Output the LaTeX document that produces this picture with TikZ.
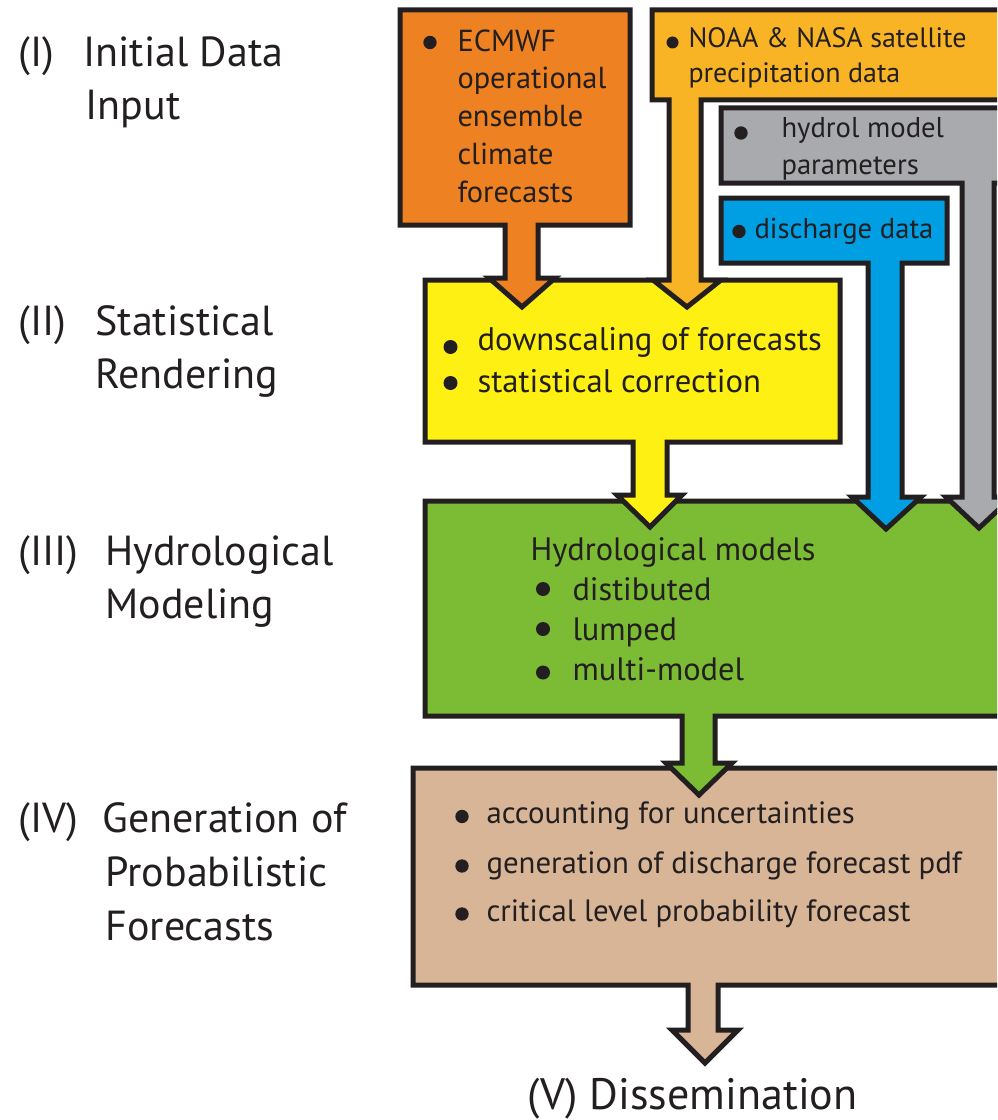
\documentclass[tikz,border=0pt]{standalone}
\usepackage{fontspec}
\setmainfont{PT Sans}
\definecolor{ink}{RGB}{35,31,32}
\definecolor{ecmwfOrange}{RGB}{238,130,34}
\definecolor{satAmber}{RGB}{248,180,36}
\definecolor{paramGray}{RGB}{168,170,173}
\definecolor{dischBlue}{RGB}{0,158,226}
\definecolor{statYellow}{RGB}{255,240,20}
\definecolor{hydroGreen}{RGB}{124,188,52}
\definecolor{probTan}{RGB}{216,181,150}

\tikzset{every picture/.style={line width=0.75pt}}

\begin{document}
\begin{tikzpicture}[x=0.75pt,y=0.75pt,yscale=-1,xscale=1,
  block/.style={draw=ink, line width=3.75pt, line join=miter},
  stage/.style={anchor=base west, inner sep=0pt, text=ink, font=\fontsize{31.5}{38}\selectfont},
  item/.style={anchor=base west, inner sep=0pt, text=ink, font=\fontsize{#1}{#1}\selectfont},
  item/.default=21.5,
  dot/.style={circle, fill=ink, inner sep=0pt, minimum size=#1},
  dot/.default=10pt]
\useasboundingbox (0,0) rectangle (997,1120);
\clip (0,0) rectangle (997,1120);

%Shape: Probabilistic box + arrow
\draw [block, fill=probTan] (413,768) -- (1010,768) -- (1010,985) -- (718,985) -- (718,1030) -- (738,1030) -- (705,1063) -- (672,1030) -- (688,1030) -- (688,985) -- (413,985) -- cycle ;
%Shape: Hydrological box + arrow
\draw [block, fill=hydroGreen] (425,501) -- (1010,501) -- (1010,716) -- (715,716) -- (715,763) -- (732,763) -- (699,795) -- (666,763) -- (682,763) -- (682,716) -- (425,716) -- cycle ;
%Shape: Statistical box + arrow
\draw [block, fill=statYellow] (425,280) -- (840,280) -- (840,442) -- (667,442) -- (667,495) -- (682,495) -- (650,527) -- (617,495) -- (633,495) -- (633,442) -- (425,442) -- cycle ;
%Shape: parameters box + arrow
\draw [block, fill=paramGray] (721,108) -- (1010,108) -- (1010,183) -- (994,183) -- (994,497) -- (1012,497) -- (979,528) -- (946,497) -- (962,497) -- (962,183) -- (721,183) -- cycle ;
%Shape: discharge box + arrow
\draw [block, fill=dischBlue] (721,198) -- (947,198) -- (947,263) -- (902,263) -- (902,497) -- (921,497) -- (886,529) -- (852,497) -- (868,497) -- (868,263) -- (721,263) -- cycle ;
%Shape: satellite box + arrow
\draw [block, fill=satAmber] (652,10) -- (1010,10) -- (1010,100) -- (701,100) -- (701,280) -- (721,280) -- (687,307) -- (653,280) -- (669,280) -- (669,100) -- (652,100) -- cycle ;
%Shape: ECMWF box + arrow
\draw [block, fill=ecmwfOrange] (400,10) -- (630,10) -- (630,225) -- (538,225) -- (538,278) -- (555,278) -- (522,307) -- (489,278) -- (505,278) -- (505,225) -- (400,225) -- cycle ;

% stage labels
\node [stage] (n1) at (18,67) {(I)};
\node [stage] (s1a) at (83,67) {Initial Data};
\node [stage] (s1b) at (85,120) {Input};
\node [stage] (n2) at (18,335) {(II)};
\node [stage] (s2a) at (95,335) {Statistical};
\node [stage] (s2b) at (95,388) {Rendering};
\node [stage] (n3) at (18,565) {(III)};
\node [stage] (s3a) at (105,565) {Hydrological};
\node [stage] (s3b) at (105,618) {Modeling};
\node [stage] (n4) at (18,832) {(IV)};
\node [stage] (s4a) at (102,832) {Generation of};
\node [stage] (s4b) at (105,886) {Probabilistic};
\node [stage] (s4c) at (105,940) {Forecasts};
\node [stage, font=\fontsize{33}{38}\selectfont] (s5) at (527,1109) {(V) Dissemination};

% ECMWF text
\node [dot] (ecDot) at (430,42.5) {};
\node [item=22.8] (ec1) at (457,52) {ECMWF};
\node [item=22.8] (ec2) at (457,89) {operational};
\node [item=22.8] (ec3) at (457,127) {ensemble};
\node [item=22.8] (ec4) at (457,165) {climate};
\node [item=22.8] (ec5) at (457,202) {forecasts};

% satellite text
\node [dot=9pt] (satDot) at (672.5,42.5) {};
\node [item=21] (sat1) at (688,48) {NOAA \& NASA satellite};
\node [item=21] (sat2) at (688,83) {precipitation data};

% parameters text
\node [dot] (parDot) at (741,133) {};
\node [item] (par1) at (781,138) {hydrol model};
\node [item] (par2) at (781,175) {parameters};

% discharge text
\node [dot] (disDot) at (739,231.5) {};
\node [item] (dis1) at (754,238) {discharge data};

% statistical text
\node [dot=10.5pt] (stDot1) at (450.5,347) {};
\node [dot=10.5pt] (stDot2) at (450.5,383) {};
\node [item=24.5] (st1) at (477,350) {downscaling of forecasts};
\node [item=24.5] (st2) at (477,392) {statistical correction};

% hydrological text
\node [item=24.3] (hy0) at (530,560) {Hydrological models};
\node [dot=10.5pt] (hyDot1) at (543,589) {};
\node [dot=10.5pt] (hyDot2) at (543,629) {};
\node [dot=10.5pt] (hyDot3) at (543,672.5) {};
\node [item=24.3] (hy1) at (572,600) {distibuted};
\node [item=24.3] (hy2) at (572,640) {lumped};
\node [item=24.3] (hy3) at (572,680) {multi-model};

% probabilistic text
\node [dot] (prDot1) at (462,816.5) {};
\node [dot] (prDot2) at (462,866) {};
\node [dot] (prDot3) at (462,914) {};
\node [item=23.1] (pr1) at (486,823) {accounting for uncertainties};
\node [item=23.1] (pr2) at (486,873) {generation of discharge forecast pdf};
\node [item=23.1] (pr3) at (486,921) {critical level probability forecast};

\end{tikzpicture}
\end{document}
